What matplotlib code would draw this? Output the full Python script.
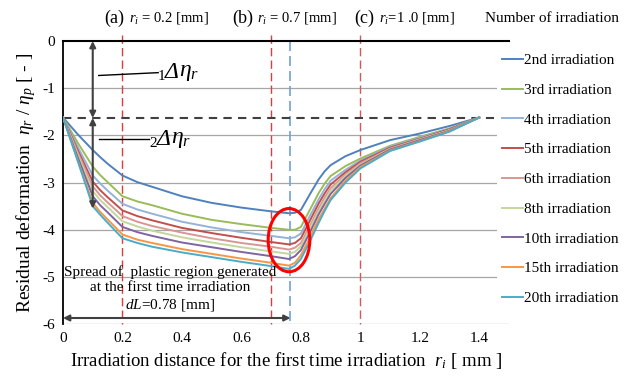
import matplotlib
matplotlib.use("Agg")
import matplotlib.pyplot as plt
from matplotlib.patches import Ellipse

plt.rcParams['font.family'] = ['Liberation Serif', 'DejaVu Serif']
plt.rcParams['mathtext.fontset'] = 'custom'
plt.rcParams['mathtext.rm'] = 'Liberation Serif'
plt.rcParams['mathtext.it'] = 'Liberation Serif:italic'
plt.rcParams['mathtext.bf'] = 'Liberation Serif:bold'
plt.rcParams['axes.unicode_minus'] = False

# ---- data ----
x = [0, 0.05, 0.1, 0.125, 0.15, 0.2, 0.25, 0.3, 0.4, 0.5, 0.6, 0.7, 0.76, 0.78, 0.8,
     0.83, 0.86, 0.88, 0.9, 0.95, 1.0, 1.1, 1.2, 1.3, 1.4]

s2 = [-1.62, -1.98, -2.31, -2.46, -2.60, -2.85, -2.99, -3.09, -3.29, -3.43, -3.53, -3.61, -3.65, -3.64, -3.58,
      -3.25, -2.93, -2.76, -2.63, -2.44, -2.31, -2.10, -1.96, -1.80, -1.62]
s3 = [-1.62, -2.16, -2.66, -2.84, -2.99, -3.29, -3.40, -3.48, -3.66, -3.79, -3.88, -3.96, -4.00, -4.00, -3.94,
      -3.58, -3.22, -3.02, -2.86, -2.65, -2.49, -2.22, -2.03, -1.85, -1.62]
s4 = [-1.62, -2.25, -2.85, -3.02, -3.17, -3.45, -3.57, -3.66, -3.83, -3.95, -4.05, -4.13, -4.18, -4.16, -4.08,
      -3.71, -3.35, -3.14, -2.96, -2.73, -2.53, -2.24, -2.05, -1.86, -1.62]
s5 = [-1.62, -2.32, -2.98, -3.16, -3.31, -3.59, -3.71, -3.80, -3.96, -4.07, -4.17, -4.26, -4.31, -4.28, -4.18,
      -3.81, -3.44, -3.23, -3.04, -2.78, -2.56, -2.26, -2.07, -1.87, -1.62]
s6 = [-1.62, -2.37, -3.08, -3.27, -3.42, -3.71, -3.83, -3.92, -4.06, -4.18, -4.28, -4.36, -4.42, -4.38, -4.28,
      -3.92, -3.54, -3.32, -3.12, -2.83, -2.59, -2.28, -2.08, -1.89, -1.62]
s8 = [-1.62, -2.42, -3.18, -3.37, -3.52, -3.82, -3.93, -4.02, -4.16, -4.27, -4.37, -4.46, -4.51, -4.47, -4.35,
      -3.98, -3.60, -3.38, -3.17, -2.86, -2.62, -2.29, -2.09, -1.89, -1.62]
s10 = [-1.62, -2.47, -3.29, -3.48, -3.63, -3.94, -4.05, -4.13, -4.27, -4.37, -4.47, -4.56, -4.62, -4.56, -4.43,
       -4.06, -3.67, -3.45, -3.24, -2.90, -2.64, -2.30, -2.10, -1.90, -1.62]
s15 = [-1.62, -2.54, -3.43, -3.62, -3.78, -4.10, -4.21, -4.28, -4.41, -4.51, -4.61, -4.70, -4.76, -4.70, -4.54,
       -4.17, -3.77, -3.55, -3.33, -2.96, -2.67, -2.32, -2.12, -1.91, -1.62]
s20 = [-1.62, -2.55, -3.50, -3.68, -3.85, -4.18, -4.28, -4.36, -4.48, -4.58, -4.68, -4.77, -4.83, -4.76, -4.62,
       -4.25, -3.85, -3.60, -3.37, -3.00, -2.70, -2.33, -2.13, -1.92, -1.62]

labels = ['2nd irradiation', '3rd irradiation', '4th irradiation', '5th irradiation',
          '6th irradiation', '8th irradiation', '10th irradiation', '15th irradiation',
          '20th irradiation']
series = [s2, s3, s4, s5, s6, s8, s10, s15, s20]
colors = ['#4F81BD', '#9BBB59', '#95B3D7', '#C0504D', '#D99694', '#C3D69B',
          '#8064A2', '#F79646', '#4BACC6']

xticks = [0, 0.2, 0.4, 0.6, 0.8, 1.0, 1.2, 1.4]
xticklabels = ['0', '0.2', '0.4', '0.6', '0.8', '1', '1.2', '1.4']
yticks = [0, -1, -2, -3, -4, -5, -6]
yticklabels = ['0', '-1', '-2', '-3', '-4', '-5', '-6']

base_level = -1.63
r_lines = [0.2, 0.7, 1.0]
dL = 0.765

# ---- figure ----
fig = plt.figure(figsize=(6.3, 3.8), dpi=100)
ax = fig.add_axes([0.1, 0.147, 0.708, 0.745])
ax.set_xlim(0, 1.5)
ax.set_ylim(-6, 0)

for yv in yticks[1:]:
    ax.axhline(yv, color='#A6A6A6', lw=0.9, zorder=1)

ax.spines['right'].set_visible(False)
ax.spines['bottom'].set_visible(False)
ax.spines['top'].set_color('black')
ax.spines['top'].set_linewidth(1.5)
ax.spines['left'].set_color('black')
ax.spines['left'].set_linewidth(1.3)

ax.set_xticks(xticks)
ax.set_xticklabels(xticklabels, fontsize=11)
ax.set_yticks(yticks)
ax.set_yticklabels(yticklabels, fontsize=11)
ax.tick_params(length=0, pad=6)

# vertical dashed lines
ax.plot([r_lines[0]] * 2, [0.12, -6], color='#E03C3C', lw=1.0, ls=(0, (6, 3)), clip_on=False, zorder=2)
ax.plot([r_lines[1]] * 2, [0.12, -6], color='#E03C3C', lw=1.0, ls=(0, (6, 3)), clip_on=False, zorder=2)
ax.plot([r_lines[2]] * 2, [0.12, -6], color='#D05A5A', lw=1.0, ls=(0, (6, 3)), clip_on=False, zorder=2)
ax.plot([dL] * 2, [0, -6], color='#6FA0DC', lw=1.2, ls=(0, (6, 3)), zorder=2)

# base dashed line
ax.plot([0, 1.45], [base_level, base_level], color='#404040', lw=1.5, ls=(0, (4, 3)), zorder=3)

for s, c, lab in zip(series, colors, labels):
    ax.plot(x, s, color=c, lw=1.4, label=lab, zorder=4, solid_joinstyle='round')

# arrows
arrow_kw = dict(arrowstyle='<|-|>', color='#404040', lw=1.5, mutation_scale=9, shrinkA=0, shrinkB=0)
ax.annotate('', xy=(0.1, 0.0), xytext=(0.1, base_level), arrowprops=arrow_kw, zorder=5)
ax.annotate('', xy=(0.1, base_level), xytext=(0.1, -3.55), arrowprops=arrow_kw, zorder=5)
ax.annotate('', xy=(0.0, -5.87), xytext=(dL, -5.87), arrowprops=arrow_kw, zorder=5)

ax.plot([0.12, 0.32], [-0.73, -0.67], color='black', lw=1.0, zorder=5)
ax.plot([0.12, 0.29], [-2.08, -2.08], color='black', lw=1.0, zorder=5)


def delta_label(xd, yd, num):
    ax.annotate(num, xy=(xd, yd), xytext=(0, -3), textcoords='offset points',
                fontsize=11, va='center', ha='left')
    ax.annotate('\u0394', xy=(xd, yd), xytext=(5, 0), textcoords='offset points',
                fontsize=17, fontstyle='italic', va='center', ha='left')
    ax.annotate(r'$\eta_r$', xy=(xd, yd), xytext=(15.5, 0), textcoords='offset points',
                fontsize=17, va='center', ha='left')


delta_label(0.318, -0.66, '1')
delta_label(0.292, -2.08, '2')

ax.add_patch(Ellipse((0.76, -4.22), 0.14, 1.34, fill=False, edgecolor='#FF0000', lw=2.2, zorder=6))

ax.text(0.36, -4.89, 'Spread of  plastic region generated', fontsize=11, ha='center', va='center', zorder=7)
ax.text(0.36, -5.23, 'at the first time irradiation', fontsize=11, ha='center', va='center', zorder=7)
ax.text(0.36, -5.59, r'$dL$=0.78 [mm]', fontsize=11, ha='center', va='center', zorder=7)

ax.set_ylabel(r'Residual deformation  $\eta_r$ / $\eta_p$ [ - ]', fontsize=14, labelpad=3)
ax.set_xlabel(r'Irradiation distance for the first time irradiation  $r_i$ [ mm ]', fontsize=13.5, labelpad=3)

# top labels
ty = 1 - 18 / 380
fig.text(104 / 630, ty, '(a)', fontsize=13, va='center', ha='left')
fig.text(129 / 630, ty, r'$r_i$ = 0.2 [mm]', fontsize=10.5, va='center', ha='left')
fig.text(232 / 630, ty, '(b)', fontsize=13, va='center', ha='left')
fig.text(257 / 630, ty, r'$r_i$ = 0.7 [mm]', fontsize=10.5, va='center', ha='left')
fig.text(354 / 630, ty, '(c)', fontsize=13, va='center', ha='left')
fig.text(379 / 630, ty, r'$r_i$=1 .0 [mm]', fontsize=10.5, va='center', ha='left')
fig.text(485 / 630, ty, 'Number of irradiation', fontsize=11, va='center', ha='left')

leg = ax.legend(loc='upper left', bbox_to_anchor=(497 / 630, 1 - 49 / 380), bbox_transform=fig.transFigure,
                frameon=True, fontsize=11, handlelength=1.4, handletextpad=0.1,
                labelspacing=1.05, borderpad=0.3, borderaxespad=0)
leg.get_frame().set_edgecolor('none')
leg.get_frame().set_facecolor('white')
leg.get_frame().set_alpha(1)

fig.savefig('out.png', dpi=100)
